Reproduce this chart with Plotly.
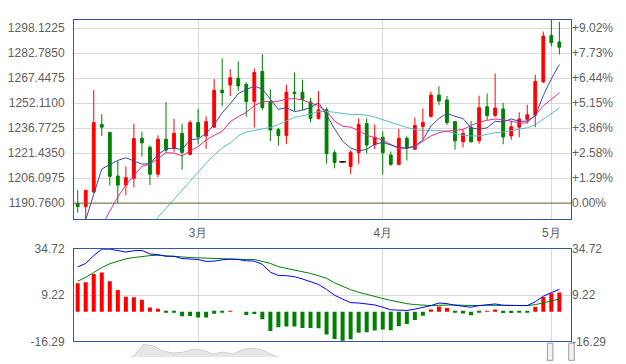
import plotly.graph_objects as go

dates = [
    "2016-02-09", "2016-02-10", "2016-02-11", "2016-02-12", "2016-02-15", "2016-02-16", "2016-02-17",
    "2016-02-18", "2016-02-19", "2016-02-22", "2016-02-23", "2016-02-24", "2016-02-25", "2016-02-26",
    "2016-02-29", "2016-03-01", "2016-03-02", "2016-03-03", "2016-03-04", "2016-03-07", "2016-03-08",
    "2016-03-09", "2016-03-10", "2016-03-11", "2016-03-14", "2016-03-15", "2016-03-16", "2016-03-17",
    "2016-03-18", "2016-03-21", "2016-03-22", "2016-03-23", "2016-03-24", "2016-03-25", "2016-03-28",
    "2016-03-29", "2016-03-30", "2016-03-31", "2016-04-01", "2016-04-04", "2016-04-05", "2016-04-06",
    "2016-04-07", "2016-04-08", "2016-04-11", "2016-04-12", "2016-04-13", "2016-04-14", "2016-04-15",
    "2016-04-18", "2016-04-19", "2016-04-20", "2016-04-21", "2016-04-22", "2016-04-25", "2016-04-26",
    "2016-04-27", "2016-04-28", "2016-04-29", "2016-05-02", "2016-05-03",
]

opens = [1190.6, 1188.6, 1197.6, 1239.0, 1234.2, 1207.4, 1201.8, 1206.0, 1230.6, 1225.1,
         1208.5, 1230.0, 1224.3, 1233.6, 1220.7, 1240.2, 1232.0, 1237.4, 1260.1, 1263.3,
         1267.4, 1263.7, 1253.1, 1271.6, 1253.1, 1236.0, 1232.2, 1258.9, 1258.9, 1252.9,
         1242.8, 1248.1, 1221.7, 1216.1, 1213.3, 1221.7, 1239.6, 1226.6, 1231.2, 1220.3,
         1214.5, 1230.6, 1223.9, 1237.8, 1244.0, 1257.1, 1254.1, 1240.8, 1228.4, 1237.2,
         1229.0, 1249.9, 1244.6, 1248.5, 1232.0, 1237.4, 1242.2, 1244.8, 1265.2, 1293.7, 1289.7]
highs = [1198.6, 1198.6, 1260.1, 1245.4, 1234.4, 1216.7, 1213.3, 1239.6, 1234.6, 1226.1,
         1232.4, 1252.9, 1242.6, 1239.6, 1241.6, 1248.7, 1244.0, 1266.9, 1279.6, 1273.0,
         1277.8, 1264.9, 1273.4, 1282.2, 1260.5, 1237.0, 1263.5, 1271.0, 1266.6, 1255.3,
         1259.5, 1249.5, 1223.3, 1216.1, 1223.3, 1242.8, 1242.8, 1239.0, 1234.8, 1222.5,
         1236.4, 1231.8, 1243.4, 1248.9, 1259.3, 1262.5, 1256.5, 1241.2, 1236.0, 1241.2,
         1256.7, 1258.1, 1270.4, 1252.3, 1241.4, 1246.5, 1251.1, 1269.6, 1296.1, 1306.0, 1302.1]
lows = [1184.9, 1178.0, 1197.0, 1232.0, 1201.6, 1190.8, 1195.6, 1200.4, 1219.3, 1201.8,
        1206.6, 1221.3, 1222.3, 1211.3, 1220.1, 1226.9, 1224.1, 1237.0, 1250.1, 1256.5,
        1259.7, 1243.8, 1237.2, 1247.9, 1228.8, 1226.0, 1227.0, 1247.3, 1247.9, 1240.4,
        1242.0, 1215.1, 1212.1, 1216.1, 1208.7, 1214.9, 1221.3, 1223.9, 1208.3, 1213.7,
        1214.5, 1216.9, 1223.5, 1230.0, 1243.4, 1250.9, 1238.8, 1223.5, 1224.9, 1228.0,
        1227.2, 1241.8, 1243.6, 1226.9, 1229.6, 1231.2, 1239.8, 1237.4, 1264.5, 1287.1, 1282.0]
closes = [1188.6, 1198.6, 1240.2, 1237.4, 1207.2, 1201.8, 1206.4, 1230.4, 1227.8, 1208.5,
          1230.0, 1223.3, 1233.6, 1221.9, 1240.2, 1231.4, 1240.8, 1260.1, 1258.5, 1267.8,
          1262.7, 1253.1, 1271.0, 1249.5, 1235.6, 1232.2, 1258.9, 1258.1, 1254.5, 1242.8,
          1248.1, 1221.1, 1215.7, 1216.1, 1221.9, 1239.0, 1226.4, 1231.2, 1221.7, 1214.5,
          1230.6, 1224.3, 1238.4, 1240.2, 1257.1, 1253.5, 1240.2, 1229.0, 1233.6, 1228.4,
          1249.3, 1244.6, 1249.1, 1231.4, 1237.6, 1242.4, 1245.0, 1265.5, 1293.3, 1289.3, 1286.5]
doji_index = 33

ma5 = [1165.0, 1181.0, 1196.2, 1211.7, 1214.4, 1217.0, 1218.6, 1216.6, 1214.7, 1215.0,
       1220.6, 1224.0, 1224.6, 1223.5, 1229.8, 1230.1, 1233.6, 1238.9, 1246.2, 1251.7,
       1258.0, 1260.4, 1262.6, 1260.8, 1254.4, 1248.3, 1249.4, 1246.9, 1247.9, 1249.3,
       1252.5, 1244.9, 1236.4, 1228.8, 1224.6, 1222.8, 1223.8, 1226.9, 1228.0, 1226.6,
       1224.9, 1224.5, 1225.9, 1229.6, 1238.1, 1242.7, 1245.9, 1244.0, 1242.7, 1236.9,
       1236.1, 1237.0, 1241.0, 1240.6, 1242.4, 1241.0, 1241.1, 1244.4, 1256.8, 1267.1, 1275.9]
ma10 = [1160.0, 1165.0, 1170.0, 1177.0, 1186.1, 1194.6, 1202.0, 1207.7, 1213.3, 1214.7,
        1218.3, 1221.7, 1221.5, 1219.7, 1222.7, 1225.5, 1229.4, 1232.4, 1234.8, 1240.8,
        1243.8, 1246.5, 1250.5, 1253.1, 1253.1, 1253.3, 1254.7, 1254.9, 1254.1, 1252.1,
        1250.5, 1247.1, 1241.2, 1238.0, 1237.4, 1235.4, 1232.4, 1231.0, 1229.4, 1226.8,
        1224.3, 1224.7, 1225.3, 1228.8, 1232.0, 1234.0, 1235.0, 1235.4, 1236.0, 1238.4,
        1240.4, 1241.6, 1242.4, 1242.0, 1240.8, 1240.0, 1240.0, 1244.8, 1250.5, 1254.5, 1258.5]
ma20 = [None, None, None, None, None, None, None, None, 1165.0, 1174.0,
        1182.1, 1187.5, 1193.2, 1198.6, 1204.2, 1209.7, 1215.3, 1220.3, 1224.7, 1227.7,
        1232.0, 1234.4, 1235.4, 1236.2, 1237.2, 1239.0, 1241.2, 1243.4, 1244.4, 1245.4,
        1246.9, 1247.1, 1246.5, 1245.9, 1245.2, 1245.2, 1244.8, 1243.6, 1242.0, 1240.0,
        1238.4, 1237.2, 1236.0, 1235.2, 1235.2, 1235.4, 1234.8, 1233.4, 1232.4, 1232.0,
        1232.0, 1233.0, 1234.0, 1234.4, 1235.4, 1236.4, 1237.0, 1239.0, 1242.4, 1245.9, 1249.1]

dif = [24.70, 26.66, 30.96, 34.54, 34.54, 33.65, 32.93, 33.65, 33.82, 31.86,
       31.50, 30.60, 30.60, 29.35, 29.17, 28.81, 27.74, 27.92, 28.63, 28.99,
       28.81, 28.10, 27.92, 26.13, 21.80, 20.04, 19.86, 19.33, 18.07, 16.64,
       15.03, 12.30, 9.12, 6.97, 5.01, 4.83, 4.29, 3.75, 2.50, 1.07,
       0.89, 0.71, 1.43, 2.32, 3.39, 4.83, 4.47, 3.57, 3.22, 2.50,
       3.39, 3.93, 4.29, 3.57, 3.39, 3.22, 3.39, 5.54, 8.59, 10.55, 12.34]
dea = [16.82, 18.97, 21.65, 24.34, 26.49, 27.92, 29.17, 29.89, 30.60, 30.96,
       31.14, 30.96, 30.78, 30.24, 29.89, 29.71, 29.35, 29.17, 29.17, 29.17,
       28.99, 28.81, 28.81, 27.92, 26.66, 24.87, 23.98, 22.91, 22.01, 21.12,
       19.86, 18.43, 15.92, 13.96, 12.17, 10.73, 9.48, 8.41, 7.33, 6.26,
       5.18, 4.47, 3.93, 3.57, 3.39, 3.57, 3.75, 3.75, 3.57, 3.39,
       3.39, 3.57, 3.57, 3.57, 3.57, 3.39, 3.39, 3.93, 5.01, 5.90, 6.97]
macd_hist = [15.75, 16.3, 20.76, 21.65, 16.82, 12.0, 8.23, 8.05, 6.62, 2.32,
             1.61, -0.2, -0.4, -2.5, -2.3, -3.2, -3.2, -1.1, -0.4, 0.5,
             0.0, -1.8, -1.3, -4.1, -10.6, -8.6, -8.1, -8.1, -9.0, -9.0,
             -9.1, -12.5, -15.0, -16.0, -15.2, -11.6, -11.3, -10.4, -9.8, -10.2,
             -8.0, -6.8, -4.5, -2.2, 1.3, 2.9, 2.1, -0.3, -0.9, -1.9,
             -0.2, 0.2, 1.2, -0.7, -0.7, -0.5, -0.3, 2.7, 8.1, 10.2, 10.6]

price_ticks = [1190.76, 1206.0975, 1221.435, 1236.7725, 1252.11, 1267.4475, 1282.785, 1298.1225]
price_tick_labels = ["1190.7600", "1206.0975", "1221.4350", "1236.7725",
                     "1252.1100", "1267.4475", "1282.7850", "1298.1225"]
pct_tick_labels = ["0.00%", "+1.29%", "+2.58%", "+3.86%", "+5.15%", "+6.44%", "+7.73%", "+9.02%"]
base_price = 1190.76
macd_ticks = [-16.29, 9.22, 34.72]
macd_tick_labels = ["-16.29", "9.22", "34.72"]
month_ticks = ["2016-03-01", "2016-04-01", "2016-05-02"]
month_labels = ["3月", "4月", "5月"]

nav_vals = [-3, -3, -3, -3, -3, -3, 1, 13, 11, 6, 4, 5, 8, 7, 3, 5, 3, 8, 9, 7,
            2, -2, -3, -3, -3, -3, -3, -3, -3, -3, -3, -3, -3, -3, -3, -3, -3, -3, -3, -3,
            -3, -3, -3, -3, -3, -3, -3, -3, -3, -3]

FRAME = "#2a5aa8"
GRID = "#d9d9d9"
FONT = dict(family="Liberation Sans, Arial, sans-serif", size=12, color="#606060")
PRICE_RANGE = [1181.1, 1303.2]
X_RANGE = [-0.46, 61.45]

fig = go.Figure()

fig.add_trace(go.Candlestick(
    x=dates, open=opens, high=highs, low=lows, close=closes,
    increasing=dict(line=dict(color="#ff0000", width=1), fillcolor="#ff0000"),
    decreasing=dict(line=dict(color="#008000", width=1), fillcolor="#008000"),
    whiskerwidth=0, xaxis="x", yaxis="y", hoverinfo="skip", showlegend=False))

fig.add_trace(go.Scatter(
    x=[dates[doji_index]], y=[closes[doji_index]], mode="markers",
    marker=dict(symbol="line-ew", size=5, line=dict(color="#000000", width=1.3)),
    xaxis="x", yaxis="y", hoverinfo="skip", showlegend=False))

for vals, col in [(ma20, "#55bccb"), (ma10, "#e8288c"), (ma5, "#3b48a6")]:
    fig.add_trace(go.Scatter(x=dates, y=vals, mode="lines", line=dict(color=col, width=1),
                             xaxis="x", yaxis="y", hoverinfo="skip", showlegend=False))

# invisible trace to carry the right-hand percent axis
fig.add_trace(go.Scatter(x=dates, y=closes, mode="lines", line=dict(width=0, color="rgba(0,0,0,0)"),
                         xaxis="x", yaxis="y3", hoverinfo="skip", showlegend=False))

fig.add_trace(go.Bar(
    x=dates, y=macd_hist,
    marker=dict(color=["#ff0000" if v > 0 else "#008000" for v in macd_hist], line=dict(width=0)),
    xaxis="x2", yaxis="y2", hoverinfo="skip", showlegend=False))
fig.add_trace(go.Scatter(x=dates, y=dea, mode="lines", line=dict(color="#008000", width=1),
                         xaxis="x2", yaxis="y2", hoverinfo="skip", showlegend=False))
fig.add_trace(go.Scatter(x=dates, y=dif, mode="lines", line=dict(color="#0000ff", width=1),
                         xaxis="x2", yaxis="y2", hoverinfo="skip", showlegend=False))
fig.add_trace(go.Scatter(x=dates, y=dif, mode="lines", line=dict(width=0, color="rgba(0,0,0,0)"),
                         xaxis="x2", yaxis="y4", hoverinfo="skip", showlegend=False))

fig.add_trace(go.Scatter(x=list(range(len(nav_vals))), y=nav_vals, mode="lines", fill="tozeroy",
                         fillcolor="#e6e6e6", line=dict(color="#d0d0d0", width=1),
                         xaxis="x3", yaxis="y5", hoverinfo="skip", showlegend=False))

fig.add_hline(y=base_price, line=dict(color="#6e6e40", width=1), xref="x", yref="y")

for x0, x1 in [(0.9525, 0.9635), (0.9955, 1.0065)]:
    fig.add_shape(type="rect", xref="paper", yref="paper", x0=x0, x1=x1, y0=-0.01, y1=0.041,
                  fillcolor="#f2f2f2", line=dict(color="#999999", width=1))

common_x = dict(type="category", range=X_RANGE, tickvals=month_ticks, ticktext=month_labels,
                showgrid=True, gridcolor=GRID, gridwidth=1, showline=True, linecolor=FRAME,
                linewidth=1, mirror=True, ticks="", zeroline=False, tickfont=FONT)

# the page body adds an 8px offset, so the figure is sized to end at the window edge
fig.update_layout(
    width=618, height=356,
    margin=dict(l=64, r=55, t=12, b=0),
    paper_bgcolor="white", plot_bgcolor="white",
    font=FONT, showlegend=False, hovermode=False,
    bargap=0.5, boxgap=0.5,
    xaxis=dict(domain=[0, 1], anchor="y", rangeslider=dict(visible=False),
               ticklabelstandoff=3, **common_x),
    xaxis2=dict(domain=[0, 1], anchor="y2", showticklabels=False, **common_x),
    xaxis3=dict(domain=[0, 1], anchor="y5", range=[0, 50], visible=False),
    yaxis=dict(domain=[0.410, 1.0], range=PRICE_RANGE, tickvals=price_ticks, ticktext=price_tick_labels,
               showgrid=True, gridcolor=GRID, showline=True, linecolor=FRAME, mirror=True,
               ticks="", zeroline=False, ticklabelstandoff=6, tickfont=FONT),
    yaxis3=dict(overlaying="y", side="right", anchor="x", range=PRICE_RANGE, tickvals=price_ticks,
                ticktext=pct_tick_labels, showgrid=False, showline=False, zeroline=False,
                ticks="", ticklabelstandoff=0, tickfont=FONT),
    yaxis2=dict(domain=[0.0466, 0.3211], range=[-16.29, 34.72], tickvals=macd_ticks,
                ticktext=macd_tick_labels, showgrid=True, gridcolor=GRID, showline=True,
                linecolor=FRAME, mirror=True, ticks="", zeroline=False, ticklabelstandoff=6,
                tickfont=FONT),
    yaxis4=dict(overlaying="y2", side="right", anchor="x2", range=[-16.29, 34.72], tickvals=macd_ticks,
                ticktext=macd_tick_labels, showgrid=False, showline=False, zeroline=False,
                ticks="", ticklabelstandoff=0, tickfont=FONT),
    yaxis5=dict(domain=[0, 0.0437], range=[0, 15], visible=False),
)

fig.write_html("out.html")
